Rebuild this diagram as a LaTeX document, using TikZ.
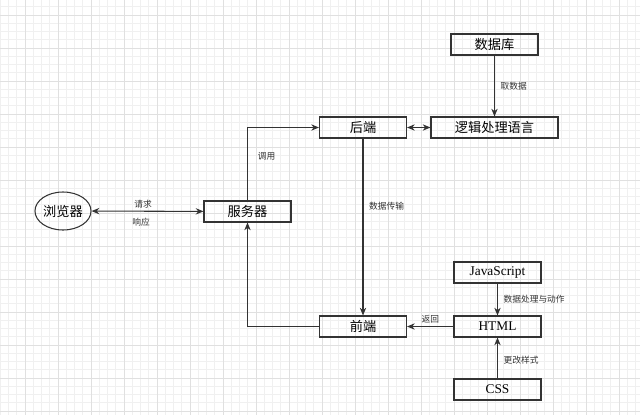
\documentclass[tikz,border=0pt]{standalone}
\usepackage{fontspec}
\setmainfont{Liberation Serif}
\newfontfamily\zhfont{Noto Sans CJK SC}
\usetikzlibrary{arrows.meta,shapes.geometric}

\definecolor{linegray}{HTML}{333333}
\definecolor{gridminor}{HTML}{F0F0F0}
\definecolor{gridmajor}{HTML}{E0E0E0}

\tikzset{
  box/.style={draw=linegray,line width=0.75pt,minimum width=87*0.025cm,minimum height=21*0.025cm,inner sep=0pt,font=\zhfont\fontsize{9.4}{10}\selectfont},
  webbox/.style={box,font=\fontsize{9.5}{10}\selectfont},
  oval/.style={ellipse,draw=linegray,line width=0.75pt,minimum width=52*0.025cm,minimum height=38*0.025cm,inner sep=0pt,font=\zhfont\fontsize{9.4}{10}\selectfont},
  lbl/.style={font=\zhfont\fontsize{6.2}{7}\selectfont,text=linegray,inner sep=1pt},
  link/.style={draw=linegray,line width=0.75pt,-{Stealth[length=5.5pt,width=4.5pt]}},
  twoway/.style={link,{Stealth[length=5.5pt,width=4.5pt]}-{Stealth[length=5.5pt,width=4.5pt]}}
}

\begin{document}
\begin{tikzpicture}[x=0.025cm,y=-0.025cm]
    \useasboundingbox (0,0) rectangle (640,415);
    %background grid
    \begin{scope}
    \clip (0,0) rectangle (640,415);
    \fill[white] (0,0) rectangle (640,415);
    \foreach \i in {0,...,80} {
      \draw[gridminor,line width=0.4pt] ({\i*8.25-8},0) -- ({\i*8.25-8},415);
    }
    \foreach \i in {0,...,52} {
      \draw[gridminor,line width=0.4pt] (0,{\i*8.25-18}) -- (640,{\i*8.25-18});
    }
    \foreach \i in {0,...,20} {
      \draw[gridmajor,line width=0.4pt] ({\i*33-8},0) -- ({\i*33-8},415);
    }
    \foreach \i in {0,...,13} {
      \draw[gridmajor,line width=0.4pt] (0,{\i*33-18}) -- (640,{\i*33-18});
    }
    \end{scope}

    %nodes
    \node[oval] (browser) at (63,211) {浏览器};
    \node[box] (server) at (247.5,211.5) {服务器};
    \node[box] (backend) at (363,127.5) {后端};
    \node[box,minimum width=127*0.025cm] (logic) at (494.5,127.5) {逻辑处理语言};
    \node[box] (db) at (494.5,44.5) {数据库};
    \node[webbox] (js) at (497.5,272.5) {JavaScript};
    \node[box] (frontend) at (363,326.5) {前端};
    \node[webbox] (html) at (497.5,326.5) {HTML};
    \node[webbox] (css) at (497.5,389.5) {CSS};

    %connectors
    \draw[twoway] (browser) -- (server);
    \node[lbl] at (143,204) {请求};
    \node[lbl] at (141,222) {响应};
    \draw[link] (server.north) |- (backend.west) node[lbl,pos=0.3,right=6pt] {调用};
    \draw[twoway] (backend) -- (logic);
    \draw[link] (db) -- (logic) node[lbl,midway,right=3pt] {取数据};
    \draw[link] (backend) -- (frontend) node[lbl,pos=0.38,right=3pt] {数据传输};
    \draw[link] (frontend.west) -| (server.south);
    \draw[link] (html) -- (frontend) node[lbl,midway,above=1pt] {返回};
    \draw[link] (js) -- (html) node[lbl,midway,right=3pt] {数据处理与动作};
    \draw[link] (css) -- (html) node[lbl,pos=0.45,right=3pt] {更改样式};
\end{tikzpicture}
\end{document}
